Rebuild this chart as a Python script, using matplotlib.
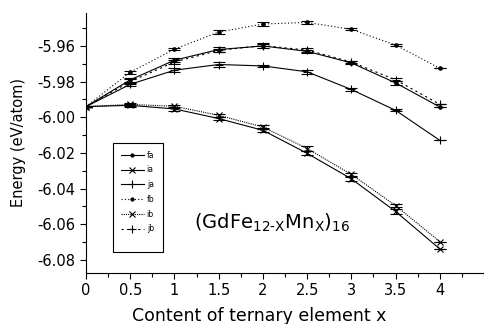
import numpy as np
import matplotlib.pyplot as plt
from matplotlib.patches import Rectangle
from matplotlib.lines import Line2D

x = [0, 0.5, 1, 1.5, 2, 2.5, 3, 3.5, 4]

fa = [-5.9940, -5.9790, -5.9680, -5.9620, -5.9600, -5.9630, -5.9695, -5.9807, -5.9942]
ia = [-5.9940, -5.9933, -5.9953, -6.0007, -6.0073, -6.0202, -6.0345, -6.0528, -6.0738]
ja = [-5.9940, -5.9815, -5.9736, -5.9704, -5.9712, -5.9745, -5.9844, -5.9961, -6.0129]
fb = [-5.9940, -5.9747, -5.9618, -5.9522, -5.9477, -5.9468, -5.9507, -5.9595, -5.9725]
ib = [-5.9940, -5.9928, -5.9938, -5.9989, -6.0054, -6.0175, -6.0320, -6.0495, -6.0697]
jb = [-5.9940, -5.9800, -5.9690, -5.9625, -5.9598, -5.9623, -5.9690, -5.9790, -5.9927]

fa_err = [0, 0.0012, 0.0012, 0.0013, 0.0012, 0.0010, 0.0008, 0.0010, 0]
ia_err = [0, 0.0008, 0.0010, 0.0010, 0.0012, 0.0012, 0.0012, 0.0012, 0]
ja_err = [0, 0.0010, 0.0010, 0.0012, 0.0008, 0.0010, 0.0008, 0.0006, 0]
fb_err = [0, 0.0008, 0.0006, 0.0012, 0.0012, 0.0008, 0.0006, 0.0004, 0]
ib_err = [0, 0.0008, 0.0008, 0.0010, 0.0012, 0.0012, 0.0010, 0.0010, 0]
jb_err = [0, 0.0012, 0.0012, 0.0010, 0.0014, 0.0010, 0.0008, 0.0008, 0]

names = ['fa', 'ia', 'ja', 'fb', 'ib', 'jb']
values = [fa, ia, ja, fb, ib, jb]
errors = [fa_err, ia_err, ja_err, fb_err, ib_err, jb_err]
markers = ['o', 'x', '+', 'o', 'x', '+']
msizes = [2.5, 5, 6, 2.5, 5, 6]
styles = ['-', '-', '-', (0, (1, 2)), (0, (1, 1)), (0, (2, 3))]

plt.rcParams['font.family'] = ['DejaVu Sans']

fig = plt.figure(figsize=(4.84, 3.24), dpi=100)
ax = fig.add_axes([0.1777, 0.1574, 0.8223, 0.8026])

handles = []
for n, v, e, m, ms, ls in zip(names, values, errors, markers, msizes, styles):
    ax.errorbar(x, v, yerr=e, color='black', lw=0.8, ls=ls, marker=m, ms=ms,
                mew=0.8, capsize=4, capthick=0.8, elinewidth=0.8)
    handles.append(Line2D([], [], color='black', lw=0.8, ls=ls, marker=m,
                          ms=ms * 0.9, mew=0.8, label=n))

ax.set_xlim(0, 4.5)
ax.set_ylim(-6.0873, -5.9415)
ax.set_xticks(np.arange(0, 4.01, 0.5))
ax.set_xticklabels(['0', '0.5', '1', '1.5', '2', '2.5', '3', '3.5', '4'])
ax.set_xticks(np.arange(0, 4.51, 0.25), minor=True)
ax.set_yticks([-5.96, -5.98, -6.00, -6.02, -6.04, -6.06, -6.08])
ax.set_yticklabels(['-5.96', '-5.98', '-6.00', '-6.02', '-6.04', '-6.06', '-6.08'])
ax.set_yticks(np.arange(-6.08, -5.944, 0.01), minor=True)
ax.tick_params(which='both', direction='out', width=0.8, labelsize=10.5)
ax.tick_params(which='major', length=4)
ax.tick_params(which='minor', length=3)
ax.spines['top'].set_visible(False)
ax.spines['right'].set_visible(False)

ax.set_ylabel('Energy (eV/atom)', fontsize=10.5, labelpad=8)
ax.set_xlabel('Content of ternary element x', fontsize=12.5, labelpad=4)
ax.xaxis.set_label_coords(0.435, -0.13)

# tall legend box like the original
ax.add_patch(Rectangle((0.068, 0.081), 0.125, 0.419, transform=ax.transAxes,
                       fill=False, lw=0.8, ec='black', zorder=5))
ax.legend(handles=handles, loc='upper left', bbox_to_anchor=(0.068, 0.5),
          frameon=False, fontsize=5.5, handlelength=3, labelspacing=0.75,
          borderpad=0.5, handletextpad=0.4)

ax.text(2.11, -6.059, r'(GdFe$_{\mathrm{12\text{-}X}}$Mn$_{\mathrm{X}}$)$_{16}$',
        fontsize=14, ha='center', va='center')

fig.savefig('out.png', dpi=100)
